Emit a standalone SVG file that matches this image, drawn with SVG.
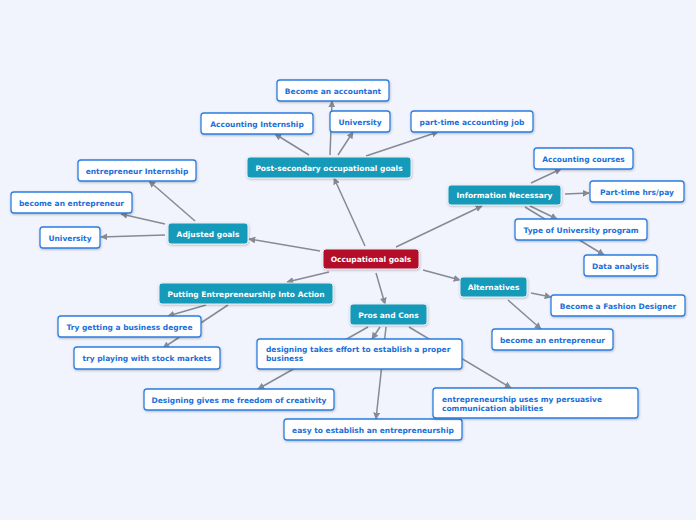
<svg xmlns="http://www.w3.org/2000/svg" width="696" height="520" viewBox="0 0 696 520">
<defs>
<marker id="ah" viewBox="0 0 10 10" refX="9" refY="5" markerWidth="7" markerHeight="7" markerUnits="userSpaceOnUse" orient="auto">
<path d="M0,0 L10,5 L0,10 Z" fill="#858a94"/>
</marker>
<filter id="sh" x="-10%" y="-20%" width="120%" height="150%">
<feDropShadow dx="0.5" dy="1" stdDeviation="0.8" flood-color="#000" flood-opacity="0.25"/>
</filter>
</defs>
<style>
.bg{fill:#f1f4fd}
.c line{stroke:#858a94;stroke-width:1.5;marker-end:url(#ah)}
.c line.n{marker-end:none}
.w rect{fill:#fff;stroke:#2a7de1;stroke-width:1.3;filter:url(#sh)}
.t rect{fill:#159aba;stroke:#e8eef4;stroke-width:1;filter:url(#sh)}
.r rect{fill:#b3092a;stroke:#e8eef4;stroke-width:1;filter:url(#sh)}
text{font-family:"DejaVu Sans","Verdana",sans-serif;font-weight:bold;font-size:7.5px}
.w text{fill:#1a6fd8}
.t text,.r text{fill:#fff}
.m{text-anchor:middle}
</style>
<rect class="bg" x="0" y="0" width="696" height="520"/>
<g id="connectors" class="c">
<line x1="365" y1="246" x2="334" y2="178"/>
<line x1="330" y1="155" x2="332" y2="101"/>
<line x1="309" y1="155" x2="275" y2="134"/>
<line x1="338" y1="155" x2="353" y2="132"/>
<line x1="366" y1="156" x2="438" y2="132"/>
<line x1="320" y1="251" x2="249" y2="239"/>
<line x1="195" y1="221" x2="149" y2="181"/>
<line x1="165" y1="224" x2="121" y2="214"/>
<line x1="165" y1="235" x2="101" y2="237"/>
<line x1="396" y1="247" x2="482" y2="206"/>
<line x1="531" y1="183" x2="561" y2="169"/>
<line x1="565" y1="194" x2="589" y2="193"/>
<line x1="530" y1="206" x2="557" y2="219"/>
<line x1="525" y1="207" x2="604" y2="255"/>
<line x1="423" y1="270" x2="460" y2="280"/>
<line x1="531" y1="293" x2="551" y2="297"/>
<line x1="508" y1="300" x2="541" y2="329"/>
<line x1="329" y1="272" x2="287" y2="282"/>
<line x1="206" y1="305" x2="168" y2="316"/>
<line x1="228" y1="305" x2="163" y2="348"/>
<line x1="376" y1="273" x2="385" y2="304"/>
<line x1="368" y1="327" x2="258" y2="389"/>
<line x1="380" y1="327" x2="372" y2="339"/>
<line x1="386" y1="327" x2="376" y2="419"/>
<line x1="409" y1="327" x2="511" y2="388"/>
</g>
<g id="central" class="r"><rect x="323" y="249" width="96" height="20" rx="3"/><text class="m" x="371" y="262">Occupational goals</text></g>
<g id="post-secondary" class="t"><rect x="247" y="157" width="164" height="21" rx="3"/><text class="m" x="329" y="171">Post-secondary occupational goals</text></g>
<g id="become-accountant" class="w"><rect x="277" y="80" width="112" height="21" rx="3"/><text class="m" x="333" y="93.5">Become an accountant</text></g>
<g id="accounting-internship" class="w"><rect x="201" y="113" width="112" height="21" rx="3"/><text class="m" x="257" y="127">Accounting Internship</text></g>
<g id="university-top" class="w"><rect x="330" y="111" width="60" height="21" rx="3"/><text class="m" x="360" y="124.5">University</text></g>
<g id="part-time-job" class="w"><rect x="411" y="111" width="122" height="21" rx="3"/><text class="m" x="472" y="124.5">part-time accounting job</text></g>
<g id="adjusted" class="t"><rect x="168" y="223" width="80" height="21" rx="3"/><text class="m" x="208" y="236.5">Adjusted goals</text></g>
<g id="entrepreneur-internship" class="w"><rect x="78" y="160" width="118" height="21" rx="3"/><text class="m" x="137" y="173.5">entrepreneur Internship</text></g>
<g id="become-entrepreneur-left" class="w"><rect x="11" y="192" width="121" height="21" rx="3"/><text class="m" x="71.5" y="206">become an entrepreneur</text></g>
<g id="university-left" class="w"><rect x="40" y="227" width="60" height="21" rx="3"/><text class="m" x="70" y="241">University</text></g>
<g id="info-necessary" class="t"><rect x="448" y="185" width="113" height="20" rx="3"/><text class="m" x="504.5" y="198">Information Necessary</text></g>
<g id="accounting-courses" class="w"><rect x="534" y="148" width="99" height="21" rx="3"/><text class="m" x="583.5" y="162">Accounting courses</text></g>
<g id="part-time-hrs" class="w"><rect x="590" y="181" width="94" height="21" rx="3"/><text class="m" x="637" y="195">Part-time hrs/pay</text></g>
<g id="type-university" class="w"><rect x="515" y="219" width="132" height="21" rx="3"/><text class="m" x="581" y="233">Type of University program</text></g>
<g id="data-analysis" class="w"><rect x="584" y="255" width="73" height="21" rx="3"/><text class="m" x="620.5" y="269">Data analysis</text></g>
<g id="alternatives" class="t"><rect x="460" y="277" width="67" height="20" rx="3"/><text class="m" x="493.5" y="290">Alternatives</text></g>
<g id="fashion-designer" class="w"><rect x="551" y="295" width="134" height="21" rx="3"/><text class="m" x="618" y="309">Become a Fashion Designer</text></g>
<g id="become-entrepreneur-right" class="w"><rect x="492" y="329" width="121" height="21" rx="3"/><text class="m" x="552.5" y="343">become an entrepreneur</text></g>
<g id="putting" class="t"><rect x="159" y="283" width="174" height="21" rx="3"/><text class="m" x="246" y="296.5">Putting Entrepreneurship Into Action</text></g>
<g id="business-degree" class="w"><rect x="58" y="316" width="143" height="21" rx="3"/><text class="m" x="129.5" y="330">Try getting a business degree</text></g>
<g id="stock-markets" class="w"><rect x="74" y="347" width="146" height="22" rx="3"/><text class="m" x="147" y="361">try playing with stock markets</text></g>
<g id="pros-cons" class="t"><rect x="350" y="304" width="77" height="21" rx="3"/><text class="m" x="388.5" y="317.5">Pros and Cons</text></g>
<g id="designing-effort" class="w"><rect x="257" y="339" width="205" height="30" rx="3"/><text x="266" y="352">designing takes effort to establish a proper</text><text x="266" y="361">business</text></g>
<g id="freedom" class="w"><rect x="144" y="389" width="190" height="21" rx="3"/><text class="m" x="239" y="403">Designing gives me freedom of creativity</text></g>
<g id="easy-establish" class="w"><rect x="284" y="419" width="178" height="21" rx="3"/><text class="m" x="373" y="433">easy to establish an entrepreneurship</text></g>
<g id="persuasive" class="w"><rect x="433" y="388" width="205" height="30" rx="3"/><text x="442" y="401.5">entrepreneurship uses my persuasive</text><text x="442" y="410.5">communication abilities</text></g>
</svg>
